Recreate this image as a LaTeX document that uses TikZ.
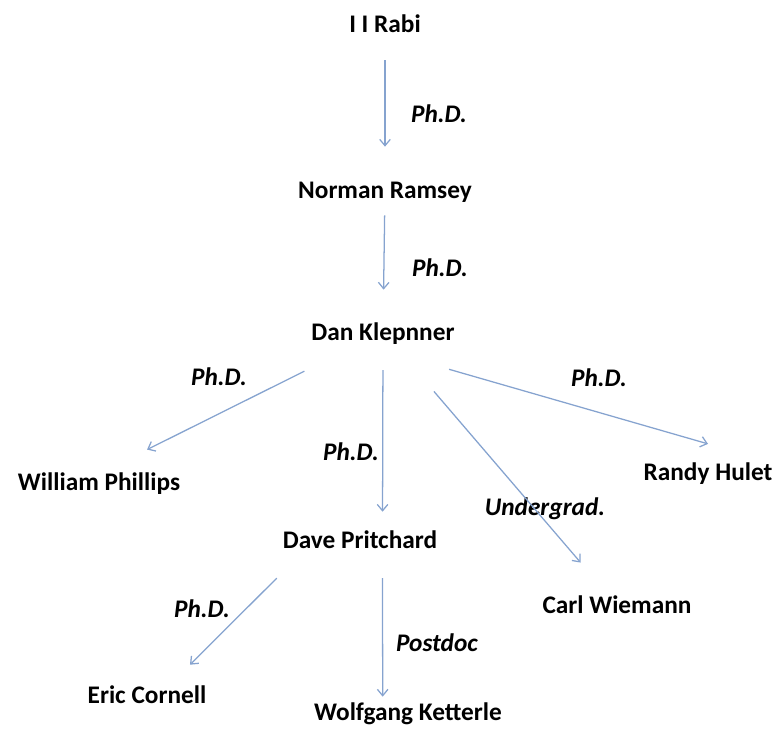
\documentclass[tikz,border=0pt]{standalone}
\usepackage{fontspec}
\setmainfont{Carlito}
\usetikzlibrary{arrows.meta}
\definecolor{linkblue}{RGB}{134,163,207}
\tikzset{
  person/.style={font=\fontsize{18}{20}\selectfont\bfseries, inner sep=0pt,
    text height=11.6pt, text depth=0pt},
  degree/.style={font=\fontsize{18}{20}\selectfont\bfseries\itshape, inner sep=0pt,
    text height=11.6pt, text depth=0pt},
}
\begin{document}
\begin{tikzpicture}[x=0.025cm, y=-0.025cm]
  \useasboundingbox (0,0) rectangle (779,734);
  \draw
    (385,24) node[person] (rabi){I I Rabi}
    (385,190) node[person] (ramsey){Norman Ramsey}
    (383,332) node[person] (dan){Dan Klepnner}
    (99,482) node[person] (phillips){William Phillips}
    (360,540) node[person] (dave){Dave Pritchard}
    (708,472) node[person] (randy){Randy Hulet}
    (617,605) node[person] (carl){Carl Wiemann}
    (147,695) node[person] (eric){Eric Cornell}
    (408,712) node[person] (wolfgang){Wolfgang Ketterle};
  \draw
    (439,114) node[degree] (phd1){Ph.D.}
    (440,268) node[degree] (phd2){Ph.D.}
    (219,377) node[degree] (phd3){Ph.D.}
    (351,452) node[degree] (phd4){Ph.D.}
    (545,507) node[degree] (undergrad){Undergrad.}
    (599,378) node[degree] (phd5){Ph.D.}
    (202,609) node[degree] (phd6){Ph.D.}
    (437,643) node[degree] (postdoc){Postdoc};
  \begin{scope}[-{Straight Barb[length=4.5pt,width=7.5pt]}, linkblue, line width=0.9pt]
    \draw[shorten <=19.8pt, shorten >=24.8pt] (rabi) to (ramsey);
    \draw[shorten <=12pt, shorten >=24.1pt] (ramsey) to (dan);
    \draw[shorten <=49pt, shorten >=38.2pt] (dan) to (phillips.north);
    \draw[shorten <=21.2pt, shorten >=14.1pt] (dan.south) to ([xshift=16pt]dave.north);
    \draw[shorten <=47.8pt, shorten >=31.8pt] (dan) to (carl);
    \draw[shorten <=48.9pt] ([yshift=-7pt]dan.south) to ([yshift=14pt]randy.north);
    \draw[shorten <=29.9pt, shorten >=22pt] ([xshift=-38pt]dave.south) to ([xshift=15pt]eric.north);
    \draw[shorten <=21.2pt, shorten >=4.9pt] ([xshift=16pt]dave.south) to ([xshift=-18pt]wolfgang.north);
  \end{scope}
\end{tikzpicture}
\end{document}
